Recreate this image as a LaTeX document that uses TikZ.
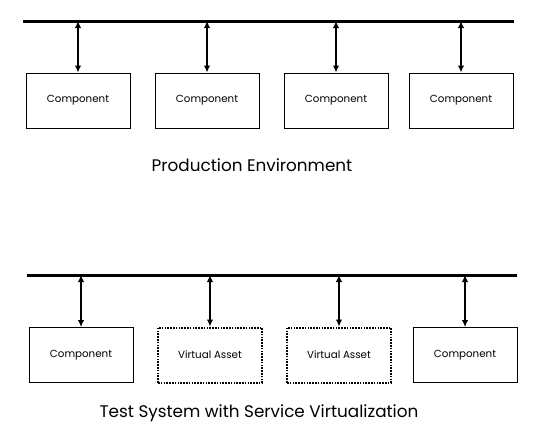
\documentclass[tikz,border=0pt]{standalone}
\usepackage{fontspec}
\setmainfont{Poppins}
\usetikzlibrary{arrows.meta}
\begin{document}
\begin{tikzpicture}[x=1pt,y=-1pt,
  bus/.style={line width=3pt},
  link/.style={line width=2pt,{Latex[length=7pt,width=6.5pt]}-{Latex[length=7pt,width=6.5pt]}},
  comp/.style={draw,line width=1pt,minimum width=104pt,minimum height=55pt,inner sep=0pt,font=\fontsize{10.3}{12}\selectfont},
  virt/.style={comp,line width=2pt,dash pattern=on 1.6pt off 1.2pt},
  lbl/.style={font=\fontsize{10.3}{12}\selectfont},
  title/.style={font=\fontsize{16.8}{20}\selectfont}]
\useasboundingbox (0,0) rectangle (546,432);
% production
\coordinate (b1l) at (23,21);
\coordinate (b1r) at (514,21);
\draw[bus] (b1l) -- (b1r);
\node[comp] (p1) at (78,100.5) {Component};
\node[comp] (p2) at (207,100.5) {Component};
\node[comp] (p3) at (336,100.5) {Component};
\node[comp] (p4) at (461,100.5) {Component};
\foreach \n in {p1,p2,p3,p4}{
  \coordinate (t\n) at (\n.north |- b1l);
  \draw[link] (t\n) -- (\n.north);
}
\node[title] (tp) at (252,165) {Production Environment};
% test
\coordinate (b2l) at (27,275);
\coordinate (b2r) at (517,275);
\draw[bus] (b2l) -- (b2r);
\node[comp] (q1) at (81,355) {Component};
\node[virt] (q2) at (210,355) {};
\node[lbl] (q2t) at (q2) {Virtual Asset};
\node[virt] (q3) at (339,355) {};
\node[lbl] (q3t) at (q3) {Virtual Asset};
\node[comp] (q4) at (465,355) {Component};
\foreach \n in {q1,q2,q3,q4}{
  \coordinate (t\n) at (\n.north |- b2l);
  \draw[link] (t\n) -- (\n.north);
}
\node[title] (tq) at (259,413) {Test System with Service Virtualization};
\end{tikzpicture}
\end{document}
